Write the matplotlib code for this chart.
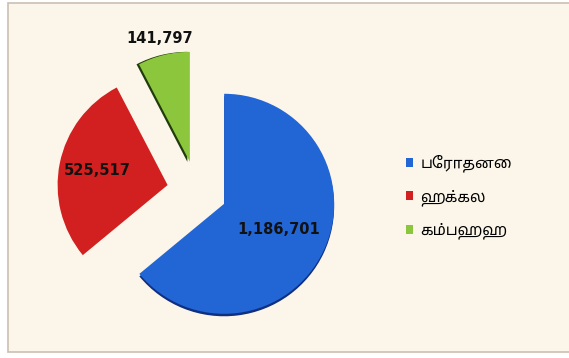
import numpy as np
import matplotlib
matplotlib.use("Agg")
from matplotlib import pyplot as plt
from matplotlib.patches import Rectangle, Wedge

# data
places = ["பேராதனை", "ஹக்கல", "கம்பஹஹ"]
values = [1186701, 525517, 141797]
colors = ["#2266d6", "#d21f1f", "#8cc63c"]
shade = ["#0f2f80", None, "#203c0c"]

tamil = ["Noto Sans Tamil", "Lohit Tamil", "Latha", "DejaVu Sans"]

fig = plt.figure(figsize=(5.69, 3.58), dpi=100)
fig.patch.set_facecolor("white")
ax = fig.add_axes([0, 0, 1, 1])

# cream panel with thin frame
ax.add_patch(Rectangle((8, 6), 570, 349, facecolor="#fcf6ea",
                       edgecolor="#cbbfb3", linewidth=1.2, zorder=0))

r = 110
cx, cy = 197, 358 - 191
explode = [30, 30, 30]

wedges, _ = ax.pie(values, colors=colors, startangle=90, counterclock=False,
                   radius=r, center=(cx, cy), explode=explode,
                   wedgeprops=dict(linewidth=0, zorder=3))

# dark rim like the 3d look of the original
offs = [(0, -2.5), None, (-2.5, 0)]
for w, c, o in zip(wedges, shade, offs):
    if c is None:
        continue
    ax.add_patch(Wedge((w.center[0] + o[0], w.center[1] + o[1]), w.r,
                       w.theta1, w.theta2, facecolor=c, linewidth=0, zorder=2))

ax.set_xlim(0, 569)
ax.set_ylim(0, 358)
ax.set_aspect("equal")
ax.axis("off")

# value labels
dist = [0.55, 0.65, 1.15]
for w, v, d in zip(wedges, values, dist):
    mid = np.deg2rad((w.theta1 + w.theta2) / 2)
    x = w.center[0] + d * r * np.cos(mid)
    y = w.center[1] + d * r * np.sin(mid)
    ax.text(x, y, f"{v:,}", ha="center", va="center", fontsize=10.5,
            fontweight="bold", color="#111111", zorder=5)

leg = ax.legend(wedges, places, loc="center left",
                bbox_to_anchor=(398 / 569, (358 - 197) / 358),
                bbox_transform=fig.transFigure, frameon=False,
                handlelength=0.5, handleheight=0.5, handletextpad=0.45,
                labelspacing=1.1, borderpad=0,
                prop=dict(family=tamil, size=11))

fig.savefig("out.png", dpi=100, facecolor=fig.get_facecolor())
